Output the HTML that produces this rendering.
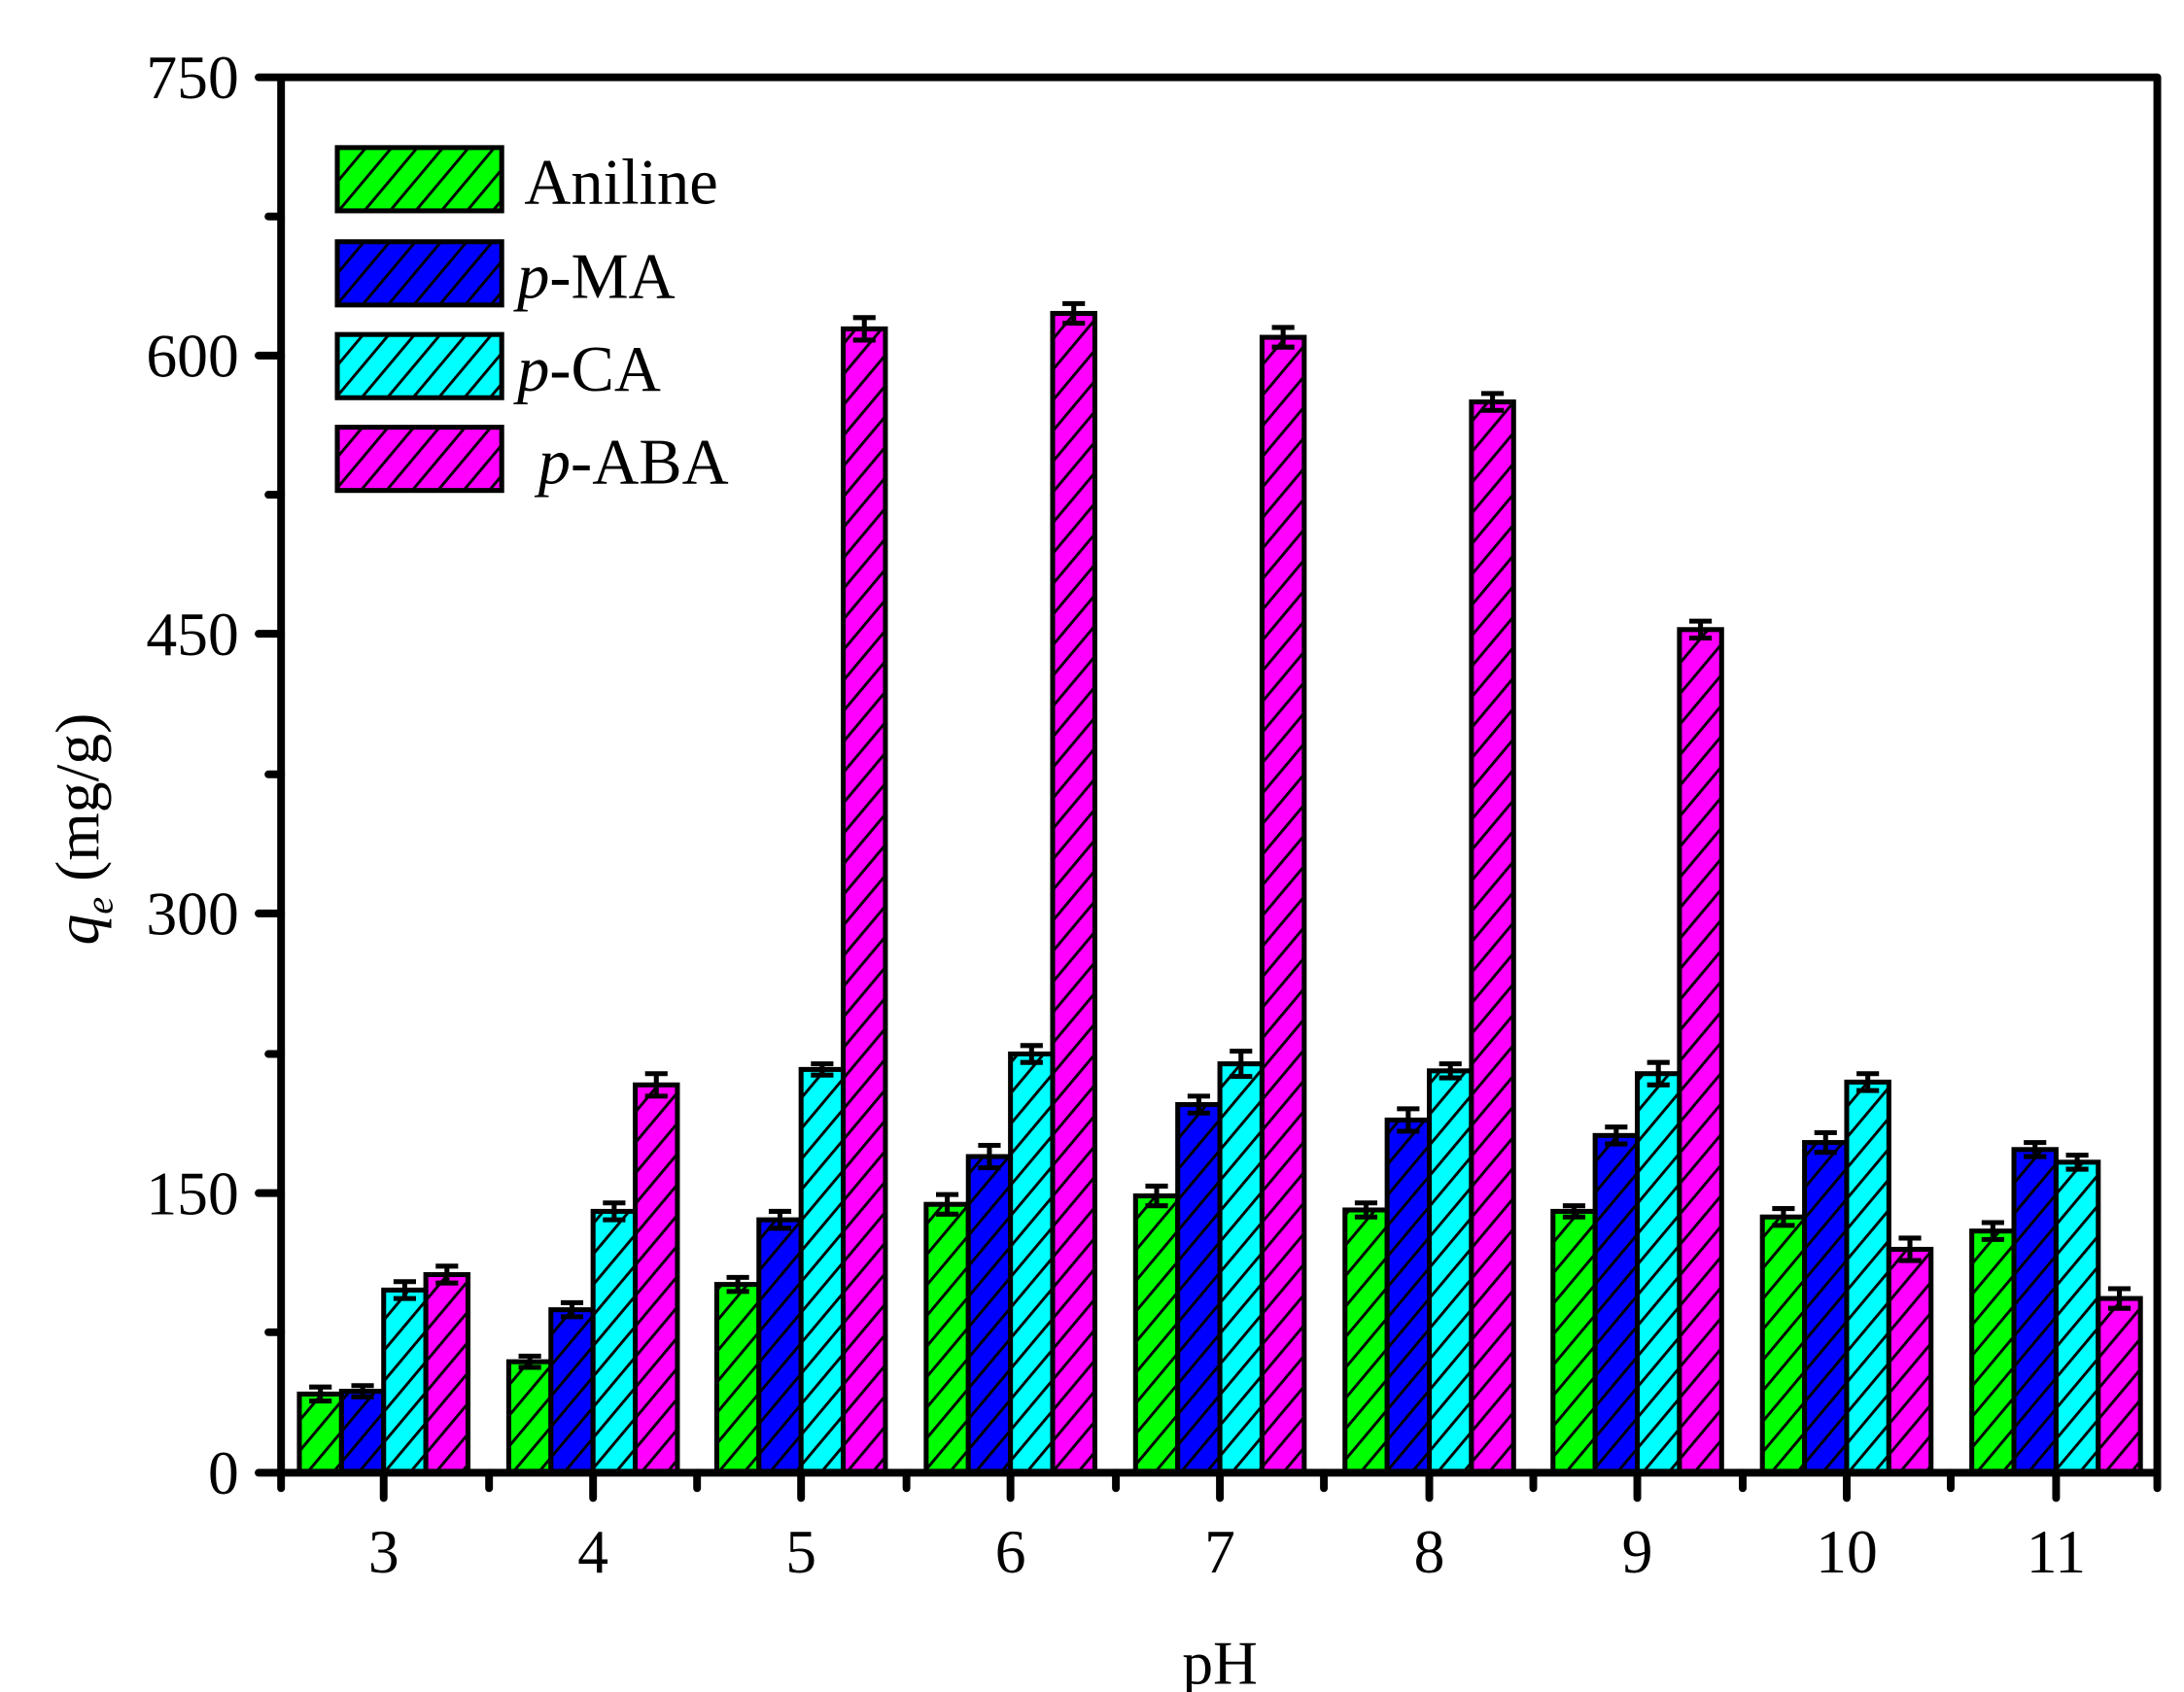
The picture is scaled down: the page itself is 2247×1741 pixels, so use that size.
<!DOCTYPE html>
<html><head><meta charset="utf-8"><style>html,body{margin:0;padding:0;background:#fff}svg{display:block}</style></head>
<body>
<svg xmlns="http://www.w3.org/2000/svg" width="2247" height="1741" viewBox="0 0 1554 1204" font-family="Liberation Serif, serif">
<defs>
<pattern id="pg" patternUnits="userSpaceOnUse" width="14" height="14" patternTransform="rotate(40)"><rect width="14" height="14" fill="#00ff00"/><line x1="0" y1="0" x2="0" y2="14" stroke="#000" stroke-width="4"/></pattern>
<pattern id="pb" patternUnits="userSpaceOnUse" width="14" height="14" patternTransform="rotate(40)"><rect width="14" height="14" fill="#0000ff"/><line x1="0" y1="0" x2="0" y2="14" stroke="#000" stroke-width="4"/></pattern>
<pattern id="pc" patternUnits="userSpaceOnUse" width="14" height="14" patternTransform="rotate(40)"><rect width="14" height="14" fill="#00ffff"/><line x1="0" y1="0" x2="0" y2="14" stroke="#000" stroke-width="4"/></pattern>
<pattern id="pm" patternUnits="userSpaceOnUse" width="14" height="14" patternTransform="rotate(40)"><rect width="14" height="14" fill="#ff00ff"/><line x1="0" y1="0" x2="0" y2="14" stroke="#000" stroke-width="4"/></pattern>
</defs>
<g stroke="#000" stroke-width="3.5">
<rect x="213" y="992" width="30" height="56" fill="url(#pg)"/><rect x="243" y="990" width="30" height="58" fill="url(#pb)"/><rect x="273" y="918" width="30" height="130" fill="url(#pc)"/><rect x="303" y="907" width="30" height="141" fill="url(#pm)"/>
<rect x="362" y="969" width="30" height="79" fill="url(#pg)"/><rect x="392" y="932" width="30" height="116" fill="url(#pb)"/><rect x="422" y="862" width="30" height="186" fill="url(#pc)"/><rect x="452" y="772" width="30" height="276" fill="url(#pm)"/>
<rect x="510" y="914" width="30" height="134" fill="url(#pg)"/><rect x="540" y="868" width="30" height="180" fill="url(#pb)"/><rect x="570" y="761" width="30" height="287" fill="url(#pc)"/><rect x="600" y="234" width="30" height="814" fill="url(#pm)"/>
<rect x="659" y="857" width="30" height="191" fill="url(#pg)"/><rect x="689" y="823" width="30" height="225" fill="url(#pb)"/><rect x="719" y="750" width="30" height="298" fill="url(#pc)"/><rect x="749" y="223" width="30" height="825" fill="url(#pm)"/>
<rect x="808" y="851" width="30" height="197" fill="url(#pg)"/><rect x="838" y="786" width="30" height="262" fill="url(#pb)"/><rect x="868" y="757" width="30" height="291" fill="url(#pc)"/><rect x="898" y="240" width="30" height="808" fill="url(#pm)"/>
<rect x="957" y="861" width="30" height="187" fill="url(#pg)"/><rect x="987" y="797" width="30" height="251" fill="url(#pb)"/><rect x="1017" y="762" width="30" height="286" fill="url(#pc)"/><rect x="1047" y="286" width="30" height="762" fill="url(#pm)"/>
<rect x="1105" y="862" width="30" height="186" fill="url(#pg)"/><rect x="1135" y="808" width="30" height="240" fill="url(#pb)"/><rect x="1165" y="764" width="30" height="284" fill="url(#pc)"/><rect x="1195" y="448" width="30" height="600" fill="url(#pm)"/>
<rect x="1254" y="866" width="30" height="182" fill="url(#pg)"/><rect x="1284" y="813" width="30" height="235" fill="url(#pb)"/><rect x="1314" y="770" width="30" height="278" fill="url(#pc)"/><rect x="1344" y="889" width="30" height="159" fill="url(#pm)"/>
<rect x="1403" y="876" width="30" height="172" fill="url(#pg)"/><rect x="1433" y="818" width="30" height="230" fill="url(#pb)"/><rect x="1463" y="827" width="30" height="221" fill="url(#pc)"/><rect x="1493" y="924" width="30" height="124" fill="url(#pm)"/>
</g>
<g stroke="#000" stroke-width="3.5" fill="none">
<path d="
M228 987v10M220 987h16M220 997h16
M258 986v8M250 986h16M250 994h16
M288 912v12M280 912h16M280 924h16
M318 901v12M310 901h16M310 913h16
M377 965v8M369 965h16M369 973h16
M407 927v10M399 927h16M399 937h16
M437 856v12M429 856h16M429 868h16
M467 764v16M459 764h16M459 780h16
M525 909v10M517 909h16M517 919h16
M555 862v12M547 862h16M547 874h16
M585 757v8M577 757h16M577 765h16
M615 226v16M607 226h16M607 242h16
M674 850v14M666 850h16M666 864h16
M704 815v16M696 815h16M696 831h16
M734 744v12M726 744h16M726 756h16
M764 216v14M756 216h16M756 230h16
M823 844v14M815 844h16M815 858h16
M853 780v12M845 780h16M845 792h16
M883 748v18M875 748h16M875 766h16
M913 233v14M905 233h16M905 247h16
M972 856v10M964 856h16M964 866h16
M1002 789v16M994 789h16M994 805h16
M1032 757v10M1024 757h16M1024 767h16
M1062 280v12M1054 280h16M1054 292h16
M1120 858v8M1112 858h16M1112 866h16
M1150 802v12M1142 802h16M1142 814h16
M1180 756v16M1172 756h16M1172 772h16
M1210 442v12M1202 442h16M1202 454h16
M1269 860v12M1261 860h16M1261 872h16
M1299 806v14M1291 806h16M1291 820h16
M1329 764v12M1321 764h16M1321 776h16
M1359 881v16M1351 881h16M1351 897h16
M1418 870v12M1410 870h16M1410 882h16
M1448 813v10M1440 813h16M1440 823h16
M1478 822v10M1470 822h16M1470 832h16
M1508 917v14M1500 917h16M1500 931h16"/>
</g>
<g stroke="#000" stroke-width="5.5" stroke-linecap="round" fill="none">
<path d="M200 55V1048M1535 55V1048M184 55H1535M184 1048H1535"/>
<path d="M184 253H200M184 451H200M184 650H200M184 849H200"/>
<path d="M191 154H200M191 352H200M191 551H200M191 750H200M191 948H200"/>
<path d="M273 1048v18M422 1048v18M570 1048v18M719 1048v18M868 1048v18M1017 1048v18M1165 1048v18M1314 1048v18M1463 1048v18"/>
<path d="M200 1048v11M348 1048v11M496 1048v11M645 1048v11M794 1048v11M942 1048v11M1091 1048v11M1240 1048v11M1388 1048v11M1535 1048v11"/>
</g>
<g font-size="44" fill="#000" text-anchor="end">
<text x="170" y="70">750</text><text x="170" y="268">600</text><text x="170" y="466">450</text><text x="170" y="665">300</text><text x="170" y="864">150</text><text x="170" y="1063">0</text>
</g>
<g font-size="44" fill="#000" text-anchor="middle">
<text x="273" y="1119">3</text><text x="422" y="1119">4</text><text x="570" y="1119">5</text><text x="719" y="1119">6</text><text x="868" y="1119">7</text><text x="1017" y="1119">8</text><text x="1165" y="1119">9</text><text x="1314" y="1119">10</text><text x="1463" y="1119">11</text>
<text x="868" y="1198">pH</text>
</g>
<text transform="translate(70,590) rotate(-90)" font-size="44" text-anchor="middle"><tspan font-style="italic">q</tspan><tspan font-style="italic" font-size="28" dy="10">e</tspan><tspan dy="-10"> (mg/g)</tspan></text>
<g stroke="#000" stroke-width="3.5">
<rect x="240" y="105" width="117" height="45" fill="url(#pg)"/>
<rect x="240" y="172" width="117" height="45" fill="url(#pb)"/>
<rect x="240" y="238" width="117" height="45" fill="url(#pc)"/>
<rect x="240" y="304" width="117" height="45" fill="url(#pm)"/>
</g>
<g font-size="46" fill="#000">
<text x="373" y="145">Aniline</text>
<text x="368" y="212"><tspan font-style="italic">p</tspan>-MA</text>
<text x="368" y="278"><tspan font-style="italic">p</tspan>-CA</text>
<text x="383" y="344"><tspan font-style="italic">p</tspan>-ABA</text>
</g>
</svg>
</body></html>
